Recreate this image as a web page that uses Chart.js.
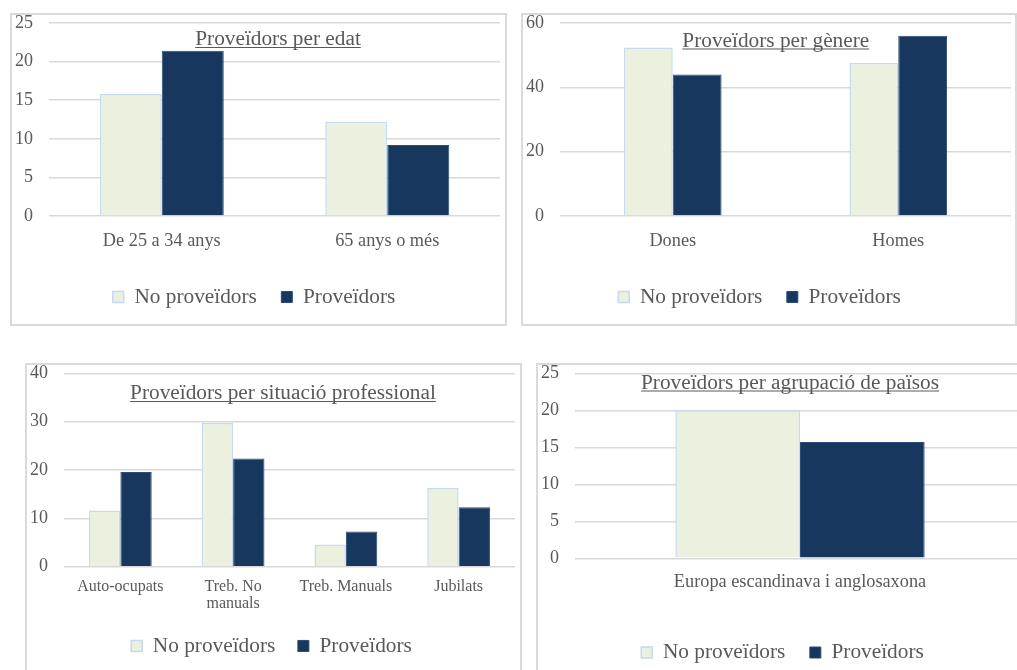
<!DOCTYPE html>
<html>
<head>
<meta charset="utf-8">
<script src="https://cdn.jsdelivr.net/npm/chart.js@4.4.0/dist/chart.umd.min.js"></script>
<style>
  html, body { margin: 0; padding: 0; background: #fff; overflow: hidden; }
  body { width: 1017px; height: 670px; position: relative; }
  .frame { position: absolute; border: 2px solid #dadada; box-sizing: border-box; }
  canvas { position: absolute; }
</style>
</head>
<body>
<div class="frame" style="left:10px;top:13px;width:497px;height:313px"></div>
<div class="frame" style="left:521px;top:13px;width:496px;height:313px"></div>
<div class="frame" style="left:25px;top:363px;width:497px;height:313px"></div>
<div class="frame" style="left:536px;top:363px;width:500px;height:313px"></div>

<canvas id="edat" width="500" height="330" style="left:8px;top:-4px"></canvas>
<canvas id="genere" width="509" height="330" style="left:508px;top:-4px"></canvas>
<canvas id="situacio" width="492" height="324" style="left:28px;top:346px"></canvas>
<canvas id="paisos" width="494" height="334" style="left:536px;top:346px"></canvas>

<script>
// data
var seriesNames = ['No proveïdors', 'Proveïdors'];

var ageLabels = ['De 25 a 34 anys', '65 anys o més'];
var ageNoProv = [15.8, 12.2];
var ageProv = [21.4, 9.2];

var genderLabels = ['Dones', 'Homes'];
var genderNoProv = [52.4, 47.6];
var genderProv = [44.0, 56.0];

var jobLabels = ['Auto-ocupats', ['Treb. No', 'manuals'], 'Treb. Manuals', 'Jubilats'];
var jobNoProv = [11.6, 29.7, 4.6, 16.3];
var jobProv = [19.6, 22.4, 7.3, 12.3];

var regionLabels = ['Europa escandinava i anglosaxona'];
var regionNoProv = [20.0];
var regionProv = [15.7];

var serif = "'Liberation Serif', 'Times New Roman', serif";
var grey = '#595959';

Chart.defaults.font.family = serif;
Chart.defaults.color = grey;

// underlined title drawn over the plot area, like the excel charts
var underlinedTitle = {
    id: 'underlinedTitle',
    afterDraw: function (chart, args, opts) {
        if (!opts.text) return;
        var ctx = chart.ctx, area = chart.chartArea;
        var x = (area.left + area.right) / 2 + opts.dx;
        var y = area.top + opts.baseline;
        ctx.save();
        ctx.font = opts.size + 'px ' + serif;
        ctx.fillStyle = grey;
        ctx.textAlign = 'center';
        ctx.textBaseline = 'alphabetic';
        ctx.fillText(opts.text, x, y);
        var w = ctx.measureText(opts.text).width;
        ctx.strokeStyle = grey;
        ctx.lineWidth = 1;
        ctx.beginPath();
        ctx.moveTo(x - w / 2, y + 2.5);
        ctx.lineTo(x + w / 2, y + 2.5);
        ctx.stroke();
        ctx.restore();
    }
};

function makeChart(id, c) {
    return new Chart(document.getElementById(id), {
        type: 'bar',
        data: {
            labels: c.labels,
            datasets: [{
                label: seriesNames[0],
                data: c.noProv,
                backgroundColor: '#ebf1de',
                borderColor: '#c6d9f1',
                borderWidth: 1.5,
                categoryPercentage: c.catPct,
                barPercentage: 1
            }, {
                label: seriesNames[1],
                data: c.prov,
                backgroundColor: '#17375e',
                borderColor: '#2b4c74',
                borderWidth: 1,
                categoryPercentage: c.catPct,
                barPercentage: 1
            }]
        },
        options: {
            responsive: false,
            animation: false,
            devicePixelRatio: 1,
            layout: { padding: c.pad },
            scales: {
                x: {
                    grid: { display: false, drawTicks: false },
                    border: { display: false },
                    ticks: {
                        autoSkip: false,
                        maxRotation: 0,
                        padding: c.xPad,
                        font: { size: c.xFont, lineHeight: c.xLine || 1.2 }
                    },
                    afterFit: function (s) { s.height = c.xHeight; }
                },
                y: {
                    min: 0,
                    max: c.yMax,
                    border: { display: false },
                    grid: { color: '#d9d9d9', lineWidth: 1.5, drawTicks: false },
                    ticks: { stepSize: c.yStep, padding: 16, font: { size: 18 } },
                    afterFit: function (s) { s.width = c.yWidth; }
                }
            },
            plugins: {
                tooltip: { enabled: false },
                title: { display: false },
                legend: {
                    position: 'bottom',
                    labels: {
                        boxWidth: 11,
                        boxHeight: 11,
                        padding: c.legendPad,
                        color: grey,
                        font: { size: 21.3 }
                    }
                },
                underlinedTitle: c.title
            }
        },
        plugins: [underlinedTitle]
    });
}

makeChart('edat', {
    labels: ageLabels, noProv: ageNoProv, prov: ageProv,
    yMax: 25, yStep: 5, catPct: 0.55,
    pad: { left: 0, right: 8, top: 27, bottom: 8.35 },
    yWidth: 41, xHeight: 45.85, xPad: 14, xFont: 18.3, legendPad: 24.5,
    title: { text: 'Proveïdors per edat', dx: 3.5, baseline: 22, size: 21.3 }
});

makeChart('genere', {
    labels: genderLabels, noProv: genderNoProv, prov: genderProv,
    yMax: 60, yStep: 20, catPct: 0.433,
    pad: { left: 0, right: 6, top: 27, bottom: 8.35 },
    yWidth: 52, xHeight: 45.85, xPad: 14, xFont: 18.3, legendPad: 24.5,
    title: { text: 'Proveïdors per gènere', dx: -9.7, baseline: 23.5, size: 21.3 }
});

makeChart('situacio', {
    labels: jobLabels, noProv: jobNoProv, prov: jobProv,
    yMax: 40, yStep: 10, catPct: 0.556,
    pad: { left: 0, right: 5, top: 27.3, bottom: 3.4 },
    yWidth: 36, xHeight: 46, xPad: 11, xFont: 16, xLine: 1.1, legendPad: 22.6,
    title: { text: 'Proveïdors per situació professional', dx: -6.5, baseline: 25.7, size: 21.3 }
});

makeChart('paisos', {
    labels: regionLabels, noProv: regionNoProv, prov: regionProv,
    yMax: 25, yStep: 5, catPct: 0.554,
    pad: { left: 4, right: 5, top: 27.3, bottom: 6.85 },
    yWidth: 35, xHeight: 59.05, xPad: 12.9, xFont: 18.3, legendPad: 24.5,
    title: { text: 'Proveïdors per agrupació de països', dx: -10, baseline: 15.2, size: 21.3 }
});
</script>
</body>
</html>
